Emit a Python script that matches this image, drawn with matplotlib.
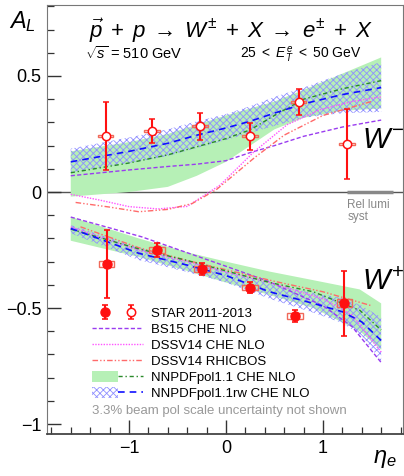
import matplotlib
matplotlib.use("Agg")
import matplotlib.pyplot as plt
from matplotlib.patches import Rectangle, Patch
from matplotlib.lines import Line2D
from matplotlib.legend_handler import HandlerTuple
from matplotlib.ticker import MultipleLocator

plt.rcParams['font.family'] = ['Liberation Sans', 'DejaVu Sans']
plt.rcParams['mathtext.fontset'] = 'custom'
plt.rcParams['mathtext.rm'] = 'Liberation Sans'
plt.rcParams['mathtext.it'] = 'Liberation Sans:italic'
plt.rcParams['mathtext.bf'] = 'Liberation Sans:bold'
plt.rcParams['hatch.linewidth'] = 0.6

# ---------------- data ----------------
eta_wm = [-1.24, -0.76, -0.27, 0.25, 0.75, 1.25]
al_wm = [0.241, 0.263, 0.284, 0.241, 0.388, 0.207]
stat_wm = [0.145, 0.05, 0.058, 0.058, 0.054, 0.15]
sys_wm = [0.005, 0.005, 0.005, 0.005, 0.005, 0.005]

eta_wp = [-1.23, -0.71, -0.245, 0.25, 0.71, 1.22]
al_wp = [-0.310, -0.250, -0.332, -0.412, -0.534, -0.479]
stat_wp = [0.145, 0.03, 0.025, 0.024, 0.027, 0.14]
sys_wp = [0.013, 0.013, 0.012, 0.011, 0.014, 0.016]
sys_eta_halfwidth = 0.08

# W- theory
eta_th_m = [-1.6, -1.0, -0.6, -0.3, 0.0, 0.25, 0.5, 0.8, 1.2, 1.6]
nnpdf_m = [0.083, 0.125, 0.16, 0.195, 0.23, 0.268, 0.33, 0.40, 0.445, 0.48]
nnpdf_m_hi = [0.175, 0.215, 0.25, 0.29, 0.33, 0.36, 0.39, 0.44, 0.51, 0.58]
nnpdf_m_lo = [-0.02, 0.0, 0.022, 0.07, 0.13, 0.20, 0.27, 0.32, 0.35, 0.36]
rw_m = [0.13, 0.175, 0.21, 0.245, 0.276, 0.305, 0.34, 0.38, 0.42, 0.45]
rw_m_hi = [0.187, 0.235, 0.27, 0.305, 0.336, 0.37, 0.41, 0.45, 0.51, 0.56]
rw_m_lo = [0.085, 0.125, 0.155, 0.19, 0.224, 0.255, 0.285, 0.32, 0.34, 0.345]
bs15_m = [0.07, 0.095, 0.11, 0.12, 0.135, 0.17, 0.2, 0.24, 0.28, 0.31]
eta_dssv_m = [-1.6, -1.3, -1.0, -0.7, -0.4, -0.17, -0.06, 0.28, 0.63, 0.97, 1.3, 1.6]
dssv_m = [-0.01, -0.035, -0.063, -0.073, -0.062, 0.0, 0.03, 0.17, 0.29, 0.355, 0.39, 0.41]
eta_rb_m = [-1.55, -1.2, -0.9, -0.6, -0.35, -0.1, 0.3, 0.6, 1.0, 1.5]
rb_m = [-0.045, -0.065, -0.085, -0.075, -0.05, 0.01, 0.15, 0.245, 0.33, 0.39]

# W+ theory
eta_nn_p = [-1.6, -0.9, -0.4, 0.0, 0.45, 0.9, 1.38, 1.6]
nnpdf_p = [-0.16, -0.245, -0.295, -0.34, -0.39, -0.43, -0.51, -0.595]
nnpdf_p_hi = [-0.107, -0.20, -0.26, -0.30, -0.343, -0.38, -0.42, -0.48]
nnpdf_p_lo = [-0.21, -0.28, -0.34, -0.39, -0.444, -0.50, -0.60, -0.68]
eta_rw_p = [-1.6, -0.9, -0.4, 0.0, 0.45, 0.9, 1.2, 1.4, 1.6]
rw_p = [-0.157, -0.264, -0.315, -0.36, -0.43, -0.48, -0.516, -0.56, -0.64]
rw_p_hi = [-0.142, -0.24, -0.295, -0.34, -0.395, -0.435, -0.457, -0.49, -0.54]
rw_p_lo = [-0.178, -0.293, -0.345, -0.39, -0.46, -0.52, -0.565, -0.62, -0.73]
eta_bs_p = [-1.6, -0.87, 0.0, 0.43, 1.0, 1.3, 1.6]
bs15_p = [-0.108, -0.193, -0.32, -0.384, -0.49, -0.58, -0.735]
eta_dssv_p = [-1.6, -0.9, -0.4, 0.0, 0.45, 1.0, 1.3, 1.6]
dssv_p = [-0.15, -0.25, -0.30, -0.345, -0.39, -0.46, -0.53, -0.69]
eta_rb_p = [-1.5, -0.9, -0.4, 0.0, 0.5, 1.0, 1.5]
rb_p = [-0.15, -0.24, -0.295, -0.335, -0.385, -0.43, -0.49]

# ---------------- styles ----------------
c_green_band = '#b6f0b6'
c_green_line = '#2a8a2a'
c_blue_hatch = '#8f8fff'
c_blue_line = '#1010ff'
c_bs15 = '#9a3cf0'
c_dssv = '#ff55ff'
c_rb = '#ff6a6a'
c_red = '#ff1010'
c_box = '#f06a5a'

ls_bs15 = (0, (3, 1.6))
ls_dssv = (0, (1, 1))
ls_rb = (0, (4, 1.5, 1, 1.5, 1, 1.5))
ls_nn = (0, (3, 2, 1, 2))
ls_rw = (0, (4, 3))

W, H = 404, 476
fig = plt.figure(figsize=(W / 100, H / 100), dpi=100)
ax = fig.add_axes([47 / W, 1 - 434 / H, (403 - 47) / W, (434 - 5) / H])
ax.set_xlim(-1.845, 1.825)
ax.set_ylim(-1.043, 0.806)

ax.axhline(0, color='#555555', lw=1.0, zorder=1)

# bands
for e, lo, hi in [(eta_th_m, nnpdf_m_lo, nnpdf_m_hi), (eta_nn_p, nnpdf_p_lo, nnpdf_p_hi)]:
    ax.fill_between(e, lo, hi, facecolor=c_green_band, edgecolor='none', lw=0, zorder=2)
for e, lo, hi in [(eta_th_m, rw_m_lo, rw_m_hi), (eta_rw_p, rw_p_lo, rw_p_hi)]:
    ax.fill_between(e, lo, hi, facecolor='none', edgecolor=c_blue_hatch, hatch='xxxxx', lw=0, zorder=3)

# curves
ax.plot(eta_th_m, bs15_m, color=c_bs15, ls=ls_bs15, lw=1.0, zorder=4)
ax.plot(eta_bs_p, bs15_p, color=c_bs15, ls=ls_bs15, lw=1.0, zorder=4)
ax.plot(eta_dssv_m, dssv_m, color=c_dssv, ls=ls_dssv, lw=1.0, zorder=4)
ax.plot(eta_dssv_p, dssv_p, color=c_dssv, ls=ls_dssv, lw=1.0, zorder=4)
ax.plot(eta_rb_m, rb_m, color=c_rb, ls=ls_rb, lw=1.0, zorder=4)
ax.plot(eta_rb_p, rb_p, color=c_rb, ls=ls_rb, lw=1.0, zorder=4)
ax.plot(eta_th_m, nnpdf_m, color=c_green_line, ls=ls_nn, lw=1.0, zorder=4)
ax.plot(eta_nn_p, nnpdf_p, color=c_green_line, ls=ls_nn, lw=1.0, zorder=4)
ax.plot(eta_th_m, rw_m, color=c_blue_line, ls=ls_rw, lw=1.2, zorder=5)
ax.plot(eta_rw_p, rw_p, color=c_blue_line, ls=ls_rw, lw=1.2, zorder=5)

# systematic boxes
for e, a, s in zip(eta_wm, al_wm, sys_wm):
    ax.add_patch(Rectangle((e - sys_eta_halfwidth, a - s), 2 * sys_eta_halfwidth, 2 * s,
                           fill=False, edgecolor=c_box, lw=1.0, zorder=6))
for e, a, s in zip(eta_wp, al_wp, sys_wp):
    ax.add_patch(Rectangle((e - sys_eta_halfwidth, a - s), 2 * sys_eta_halfwidth, 2 * s,
                           fill=False, edgecolor=c_box, lw=1.0, zorder=6))

# points
eb_open = ax.errorbar(eta_wm, al_wm, yerr=stat_wm, fmt='o', ms=6, mfc='white', mec=c_red,
                      mew=1.1, color=c_red, ecolor=c_red, elinewidth=1.5, capsize=2.5,
                      capthick=1.2, zorder=7)
eb_fill = ax.errorbar(eta_wp, al_wp, yerr=stat_wp, fmt='o', ms=6.5, mfc=c_red, mec=c_red,
                      color=c_red, ecolor=c_red, elinewidth=1.5, capsize=2.5,
                      capthick=1.2, zorder=7)

# rel lumi syst
ax.plot([1.25, 1.72], [0, 0], color='#888888', lw=2.5, zorder=2, solid_capstyle='butt')
ax.text(1.25, -0.03, 'Rel lumi\nsyst', color='#888888', fontsize=8.5, va='top', ha='left',
        linespacing=0.95)

# W labels
ax.text(1.40, 0.225, r'$W^{\mathrm{-}}$', fontsize=21, va='center', ha='left')
ax.text(1.40, -0.39, r'$W^{+}$', fontsize=21, va='center', ha='left')

# axes style
ax.xaxis.set_major_locator(MultipleLocator(1))
ax.xaxis.set_minor_locator(MultipleLocator(0.2))
ax.yaxis.set_major_locator(MultipleLocator(0.5))
ax.yaxis.set_minor_locator(MultipleLocator(0.1))
ax.tick_params(which='both', direction='in', top=False, right=False, labelsize=13, color='#333333')
ax.tick_params(which='major', length=10, width=1.0, pad=4)
ax.tick_params(which='minor', length=5, width=0.9)
ax.set_xticks([-1, 0, 1])
ax.set_xticklabels(['\u22121', '0', '1'])
ax.set_yticks([-1, -0.5, 0, 0.5])
ax.set_yticklabels(['\u22121', '\u22120.5', '0', '0.5'])
for sp in ['top', 'right', 'left']:
    ax.spines[sp].set_color('#777777')
    ax.spines[sp].set_linewidth(0.8)
ax.spines['bottom'].set_color('#444444')
ax.spines['bottom'].set_linewidth(1.3)

# legend
h_star = (eb_fill, eb_open)
h_bs = Line2D([], [], color=c_bs15, ls=ls_bs15, lw=1.0)
h_dssv = Line2D([], [], color=c_dssv, ls=ls_dssv, lw=1.0)
h_rb = Line2D([], [], color=c_rb, ls=ls_rb, lw=1.0)
h_nn = (Patch(facecolor=c_green_band, edgecolor='none'), Line2D([], [], color=c_green_line, ls=ls_nn, lw=1.0))
h_rw = (Patch(facecolor='none', edgecolor=c_blue_hatch, hatch='xxxxx', lw=0),
        Line2D([], [], color=c_blue_line, ls=ls_rw, lw=1.2))
labels = ['STAR 2011-2013', 'BS15 CHE NLO', 'DSSV14 CHE NLO', 'DSSV14 RHICBOS',
          'NNPDFpol1.1 CHE NLO', 'NNPDFpol1.1rw CHE NLO']
leg = ax.legend([h_star, h_bs, h_dssv, h_rb, h_nn, h_rw], labels,
                handler_map={tuple: HandlerTuple(ndivide=None, pad=0.0)},
                loc='upper left', bbox_to_anchor=((92 - 47) / 356, (434 - 307) / 429),
                frameon=False, fontsize=9.5, handlelength=3.9, handleheight=0.9,
                handletextpad=0.55, labelspacing=0.22, borderpad=0, borderaxespad=0)
fig.text(92 / W, 1 - 411 / H, '3.3% beam pol scale uncertainty not shown', color='#999999',
         fontsize=9.5, va='center', ha='left')

# titles
fig.text(89 / W, 1 - 38 / H,
         r'$\vec{p}\;+\;p\;\rightarrow\;W^{\pm}\;+\;X\;\rightarrow\;e^{\pm}\;+\;X$',
         fontsize=16, va='baseline', ha='left')
fig.text(85 / W, 1 - 59 / H, r'$\sqrt{s}$ = 510 GeV', fontsize=10.5, va='baseline', ha='left')
fig.text(240 / W, 1 - 59 / H, r'25 $<$ $E_{T}^{e}$ $<$ 50 GeV', fontsize=10, va='baseline', ha='left')
fig.text(9 / W, 1 - 28 / H, r'$A_{L}$', fontsize=17, va='baseline', ha='left')
fig.text(373 / W, 1 - 463 / H, r'$\eta_{e}$', fontsize=17, va='baseline', ha='left')

fig.savefig('out.png', dpi=100)
